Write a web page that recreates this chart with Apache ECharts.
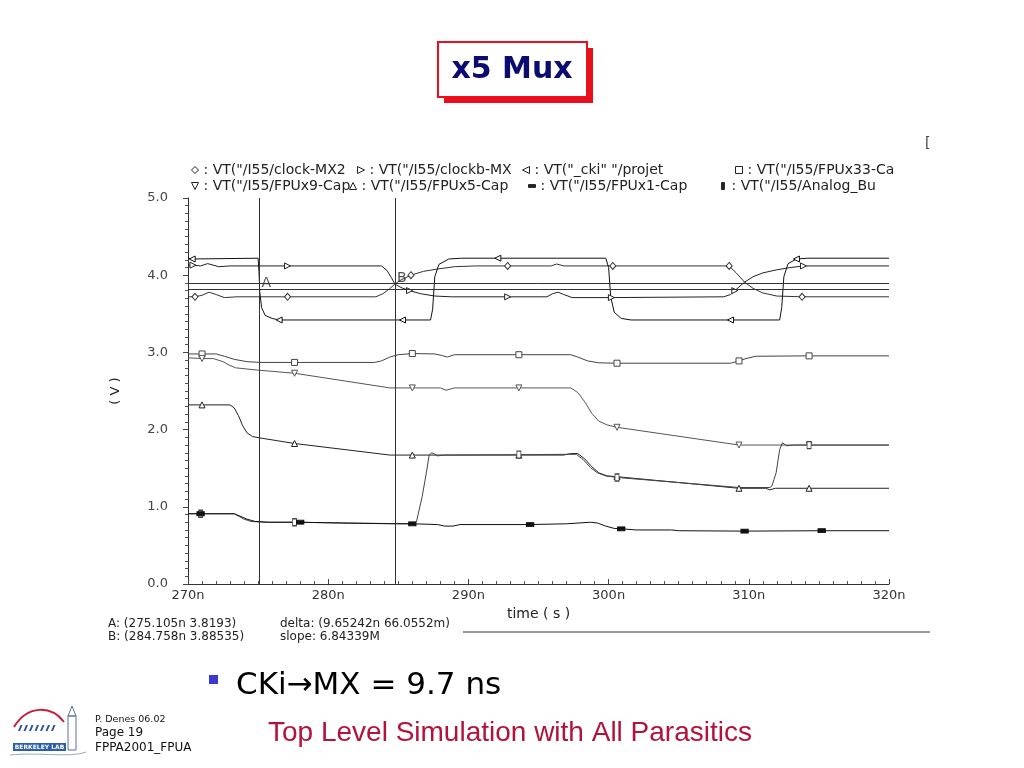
<!DOCTYPE html>
<html><head><meta charset="utf-8">
<script src="https://cdn.jsdelivr.net/npm/echarts@6/dist/echarts.min.js"></script>
<style>html,body{margin:0;padding:0;background:#fff}#c{width:1024px;height:768px}</style>
</head><body><div id="c"></div><script>
// ---------- data (time in ns, voltage in V; third value 1 = marker drawn) ----------
const traceNames = ['VT("/I55/clock-MX2', 'VT("/I55/clockb-MX', 'VT("_cki" "/projet', 'VT("/I55/FPUx33-Ca',
                    'VT("/I55/FPUx9-Cap', 'VT("/I55/FPUx5-Cap', 'VT("/I55/FPUx1-Cap', 'VT("/I55/Analog_Bu'];

const clockMX2 = [[270.0,3.72],[270.5,3.72,1],[271.0,3.74],[271.5,3.78],[272.0,3.75],[272.6,3.71],[273.5,3.72],[277.1,3.72,1],
  [283.4,3.72],[283.9,3.76],[284.35,3.82],[284.76,3.885],[285.2,3.94],[285.9,4.0,1],[286.8,4.05],[287.8,4.08],[289.0,4.11],
  [290.5,4.12],[292.8,4.12,1],[295.9,4.12],[296.3,4.145],[296.8,4.12],[300.3,4.12,1],[308.6,4.12,1],[309.1,4.03],[309.7,3.91],
  [310.3,3.83],[311.0,3.77],[312.0,3.73],[313.8,3.72,1],[320.0,3.72]];

const clockbMX = [[270.0,4.13],[270.35,4.13,1],[270.9,4.12],[271.4,4.15],[272.2,4.11],[273.0,4.12],[277.1,4.12,1],[283.8,4.12],
  [284.2,4.06],[284.5,3.97],[284.76,3.885],[285.2,3.84],[285.8,3.80,1],[286.6,3.76],[287.6,3.73],[288.8,3.72],[292.8,3.72,1],
  [295.6,3.72],[296.0,3.76],[296.4,3.78],[296.8,3.75],[297.4,3.71],[300.2,3.71,1],[308.2,3.72],[308.7,3.75],[309.0,3.80,1],
  [309.7,3.91],[310.3,3.98],[311.0,4.03],[312.0,4.07],[313.0,4.10],[313.9,4.12,1],[320.0,4.12]];

const cki = [[270.0,4.22],[270.3,4.21,1],[275.0,4.22],[275.06,4.05],[275.12,3.78],[275.25,3.58],[275.5,3.48],[276.0,3.44],
  [276.5,3.42,1],[285.3,3.42,1],[287.3,3.42],[287.45,3.56],[287.6,3.98],[287.9,4.14],[288.6,4.21],[289.5,4.22],[292.1,4.22,1],
  [299.8,4.22],[300.0,4.10],[300.15,3.72],[300.4,3.52],[300.9,3.44],[301.6,3.42],[308.7,3.42,1],[312.2,3.42],[312.35,3.58],
  [312.5,3.98],[312.8,4.15],[313.4,4.21,1],[314.2,4.22],[320.0,4.22]];

const fpux33 = [[270.0,2.98],[271.0,2.98,1],[272.0,2.98],[272.6,2.95],[273.3,2.91],[274.2,2.88],[275.2,2.87],[277.6,2.87,1],
  [283.3,2.87],[283.8,2.89],[284.4,2.94],[285.0,2.97],[286.0,2.985,1],[287.6,2.98],[288.1,2.96],[288.5,2.94],[289.0,2.97],
  [293.6,2.97,1],[297.3,2.97],[297.8,2.94],[298.5,2.89],[299.3,2.865],[300.6,2.86,1],[308.7,2.86],[309.3,2.89,1],[309.8,2.92],
  [310.5,2.95],[314.3,2.955,1],[320.0,2.955]];

const fpux9 = [[270.0,2.93],[271.0,2.92,1],[271.8,2.92],[272.5,2.88],[273.0,2.83],[273.4,2.80],[275.0,2.77],[277.6,2.73,1],
  [284.4,2.54],[286.0,2.54,1],[288.0,2.54],[288.4,2.51],[289.0,2.54],[293.6,2.54,1],[297.3,2.54],[297.8,2.48],[298.3,2.36],
  [298.8,2.21],[299.3,2.11],[299.9,2.06],[300.6,2.03,1],[309.3,1.80,1],[314.3,1.80,1],[320.0,1.80]];

const fpux5 = [[270.0,2.32],[271.0,2.32,1],[273.0,2.32],[273.3,2.28],[273.6,2.18],[273.9,2.05],[274.2,1.96],[274.6,1.91],
  [275.2,1.89],[277.6,1.82,1],[284.4,1.67],[286.0,1.67,1],[293.6,1.67,1],[296.8,1.67],[297.3,1.69],[297.8,1.69],[298.3,1.62],
  [298.8,1.52],[299.3,1.44],[299.9,1.40],[300.6,1.39,1],[309.3,1.24,1],[311.2,1.24],[311.5,1.22],[311.9,1.24],[314.3,1.24,1],
  [320.0,1.24]];

const fpux1 = [[270.0,0.91],[270.9,0.91,1],[273.3,0.91],[273.6,0.88],[274.0,0.84],[274.5,0.81],[275.5,0.80],[277.6,0.80,1],
  [281.0,0.79],[286.1,0.78],[286.3,0.81],[286.7,1.13],[287.0,1.44],[287.2,1.67],[287.4,1.70],[287.8,1.66],[288.3,1.67],
  [293.6,1.675,1],[297.2,1.68],[297.7,1.68],[298.2,1.61],[298.7,1.51],[299.2,1.44],[299.8,1.40],[300.6,1.38,1],[309.3,1.25],
  [311.5,1.25],[311.65,1.27],[311.95,1.44],[312.2,1.74],[312.4,1.83],[312.7,1.79],[313.2,1.80],[314.3,1.80,1],[320.0,1.80]];

const analogBu = [[270.0,0.91],[270.9,0.91,1],[273.3,0.91],[273.7,0.88],[274.2,0.84],[274.8,0.81],[275.8,0.80],[278.0,0.80,1],
  [281.0,0.79],[284.5,0.78],[286.0,0.78,1],[287.8,0.77],[288.3,0.75],[288.9,0.75],[289.4,0.77],[294.4,0.77,1],[297.0,0.78],
  [298.7,0.80],[299.2,0.79],[299.8,0.75],[300.4,0.72],[300.9,0.715,1],[302.0,0.70],[304.5,0.70],[305.0,0.69],[309.7,0.685,1],
  [315.2,0.69,1],[320.0,0.69]];

const cursorNames = ['A', 'B'];
const cursorT = [275.105, 284.758];
const cursorV = [3.8193, 3.88535];
const readoutLeft = ['A: (275.105n 3.8193)', 'B: (284.758n 3.88535)'];
const readoutRight = ['delta: (9.65242n 66.0552m)', 'slope: 6.84339M'];

// ---------- styling ----------
const traces = [clockMX2, clockbMX, cki, fpux33, fpux9, fpux5, fpux1, analogBu];
const FONT = 'DejaVu Sans';
const INK = '#222';
const traceColors = ['#333', '#222', '#111', '#444', '#555', '#222', '#444', '#111'];
const symRight = 'path://M0,0L10,5L0,10Z';
const symLeft = 'path://M10,0L0,5L10,10Z';
const symDown = 'path://M0,0L10,0L5,10Z';
const traceSymbols = ['diamond', symRight, symLeft, 'rect', symDown, 'triangle', 'rect', 'rect'];
const traceSymbolSizes = [[6,7], 6, 6, 6, 6, 6, [4,7], [7,4]];
const traceFilled = [false, false, false, false, false, false, false, true];
const legendIcons = ['diamond', symRight, symLeft, 'rect', symDown, 'triangle',
  'path://M0,0M10,10M0,3L10,3L10,7L0,7Z', 'path://M0,0M10,10M3,0L7,0L7,10L3,10Z'];
const legendFilled = [false, false, false, false, false, false, true, true];
// legend column layout: [left, top] of each entry
const legendSlots = [[191,163],[357,163],[522,163],[735,163],[191,179],[349,179],[528,179],[719,179]];

function lineSeries(i) {
  return {
    name: traceNames[i], type: 'line', data: traces[i], encode: { x: 0, y: 1 },
    symbol: (v, p) => (p.data[2] ? traceSymbols[i] : 'none'),
    symbolSize: traceSymbolSizes[i], showSymbol: true, showAllSymbol: true,
    silent: true, animation: false, z: 3,
    lineStyle: { color: traceColors[i], width: 1 },
    itemStyle: { color: traceFilled[i] ? traceColors[i] : '#fff', borderColor: traceColors[i], borderWidth: 1, opacity: 1 }
  };
}

function legendEntry(i) {
  return {
    left: legendSlots[i][0], top: legendSlots[i][1], orient: 'horizontal', itemGap: 0,
    itemWidth: 7, itemHeight: 7, padding: 0, selectedMode: false,
    formatter: n => ': ' + n,
    textStyle: { fontFamily: FONT, fontSize: 14, color: INK },
    data: [{
      name: traceNames[i], icon: legendIcons[i],
      itemStyle: { color: legendFilled[i] ? INK : '#fff', borderColor: INK, borderWidth: 1 }
    }]
  };
}

const chart = echarts.init(document.getElementById('c'), null, { renderer: 'canvas', width: 1024, height: 768 });

const series = traces.map((d, i) => lineSeries(i));
series.push({
  type: 'scatter', name: 'cursors', data: cursorT.map((t, i) => [t, cursorV[i]]),
  symbolSize: 0, silent: true, animation: false, z: 4,
  label: { show: true, formatter: p => cursorNames[p.dataIndex], position: [2, -13],
           fontFamily: FONT, fontSize: 14, color: INK },
  markLine: { silent: true, symbol: 'none', animation: false, label: { show: false },
    lineStyle: { color: '#333', width: 1, type: 'solid' },
    data: cursorT.map(t => ({ xAxis: t })).concat(cursorV.map(v => ({ yAxis: v }))) }
});

const logoMarks = [0,1,2,3,4,5,6].map(k => ({
  type: 'polygon', shape: { points: [[18 + k*5.5, 731], [20.5 + k*5.5, 725], [22.5 + k*5.5, 725], [20 + k*5.5, 731]] },
  style: { fill: '#2b52a0' }
}));

chart.setOption({
  animation: false,
  backgroundColor: '#fff',
  grid: { left: 188, right: 135, top: 198, bottom: 184, containLabel: false },
  xAxis: {
    type: 'value', min: 270, max: 320, interval: 10,
    name: 'time ( s )', nameLocation: 'middle', nameGap: 17,
    nameTextStyle: { fontFamily: FONT, fontSize: 14, color: INK },
    axisLine: { show: true, lineStyle: { color: '#333', width: 1 } },
    axisTick: { show: true, inside: true, length: 5, lineStyle: { color: '#444' } },
    minorTick: { show: true, splitNumber: 10, length: 3, lineStyle: { color: '#555' } },
    splitLine: { show: false },
    axisLabel: { formatter: v => v + 'n', fontFamily: FONT, fontSize: 13, color: '#333', margin: 5 }
  },
  yAxis: {
    type: 'value', min: 0, max: 5, interval: 1,
    name: '( V )', nameLocation: 'middle', nameGap: 66, nameRotate: 90,
    nameTextStyle: { fontFamily: FONT, fontSize: 13, color: INK },
    axisLine: { show: true, lineStyle: { color: '#333', width: 1 } },
    axisTick: { show: true, inside: false, length: 5, lineStyle: { color: '#444' } },
    minorTick: { show: true, splitNumber: 10, length: 3, lineStyle: { color: '#555' } },
    splitLine: { show: false },
    axisLabel: { formatter: v => v.toFixed(1), fontFamily: FONT, fontSize: 13, color: '#444', margin: 20,
                 padding: [0, 0, 10, 0] }
  },
  legend: traceNames.map((n, i) => legendEntry(i)),
  series: series,
  graphic: [
    // title box
    { type: 'rect', shape: { x: 444, y: 48, width: 149, height: 55 }, style: { fill: '#e8101c' }, z: 10 },
    { type: 'rect', shape: { x: 438, y: 42, width: 149, height: 55 }, style: { fill: '#fff', stroke: '#e8101c', lineWidth: 2 }, z: 11 },
    { type: 'text', x: 512, y: 70, z: 12, style: { text: 'x5 Mux', font: 'bold 30px "DejaVu Sans"', fill: '#0c0c70', align: 'center', verticalAlign: 'middle' } },
    // corner glyph
    { type: 'text', x: 925, y: 136, style: { text: '[', font: '14px "DejaVu Sans"', fill: '#444' } },
    // readouts
    { type: 'line', shape: { x1: 463, y1: 632, x2: 930, y2: 632 }, style: { stroke: '#333', lineWidth: 1 } },
    { type: 'text', x: 108, y: 618, style: { text: readoutLeft[0], font: '12px "DejaVu Sans"', fill: INK } },
    { type: 'text', x: 108, y: 631, style: { text: readoutLeft[1], font: '12px "DejaVu Sans"', fill: INK } },
    { type: 'text', x: 280, y: 618, style: { text: readoutRight[0], font: '12px "DejaVu Sans"', fill: INK } },
    { type: 'text', x: 280, y: 631, style: { text: readoutRight[1], font: '12px "DejaVu Sans"', fill: INK } },
    // bullet line
    { type: 'rect', shape: { x: 209, y: 675, width: 9, height: 9 }, style: { fill: '#3a3acc' } },
    { type: 'text', x: 236, y: 686, style: { text: 'CKi\u2192MX = 9.7 ns', font: '31px "DejaVu Sans"', fill: '#000', verticalAlign: 'middle' } },
    { type: 'text', x: 268, y: 733, style: { text: 'Top Level Simulation with All Parasitics', font: '28px "Liberation Sans"', fill: '#b3123a', verticalAlign: 'middle' } },
    // footer
    { type: 'text', x: 95, y: 715, style: { text: 'P. Denes 06.02', font: '9.5px "DejaVu Sans"', fill: '#111' } },
    { type: 'text', x: 95, y: 727, style: { text: 'Page 19', font: '12px "DejaVu Sans"', fill: '#111' } },
    { type: 'text', x: 95, y: 742, style: { text: 'FPPA2001_FPUA', font: '12px "DejaVu Sans"', fill: '#111' } },
    // logo
    { type: 'bezierCurve', shape: { x1: 14, y1: 727, x2: 64, y2: 722, cpx1: 28, cpy1: 704, cpx2: 52, cpy2: 706 }, style: { stroke: '#c41e3a', lineWidth: 2, fill: null } },
    { type: 'rect', shape: { x: 68, y: 716, width: 8, height: 34 }, style: { fill: 'none', stroke: '#5a6fa0', lineWidth: 1 } },
    { type: 'polygon', shape: { points: [[68, 716], [72, 706], [76, 716]] }, style: { fill: 'none', stroke: '#5a6fa0', lineWidth: 1 } },
    { type: 'rect', shape: { x: 13, y: 743, width: 53, height: 8 }, style: { fill: '#2d5ea8' } },
    { type: 'text', x: 39.5, y: 747, style: { text: 'BERKELEY LAB', font: 'bold 6px "DejaVu Sans"', fill: '#fff', align: 'center', verticalAlign: 'middle' } },
    { type: 'bezierCurve', shape: { x1: 10, y1: 755, x2: 86, y2: 752, cpx1: 40, cpy1: 752, cpx2: 70, cpy2: 758 }, style: { stroke: '#9aa8b8', lineWidth: 1, fill: null } }
  ].concat(logoMarks)
});
</script></body></html>
